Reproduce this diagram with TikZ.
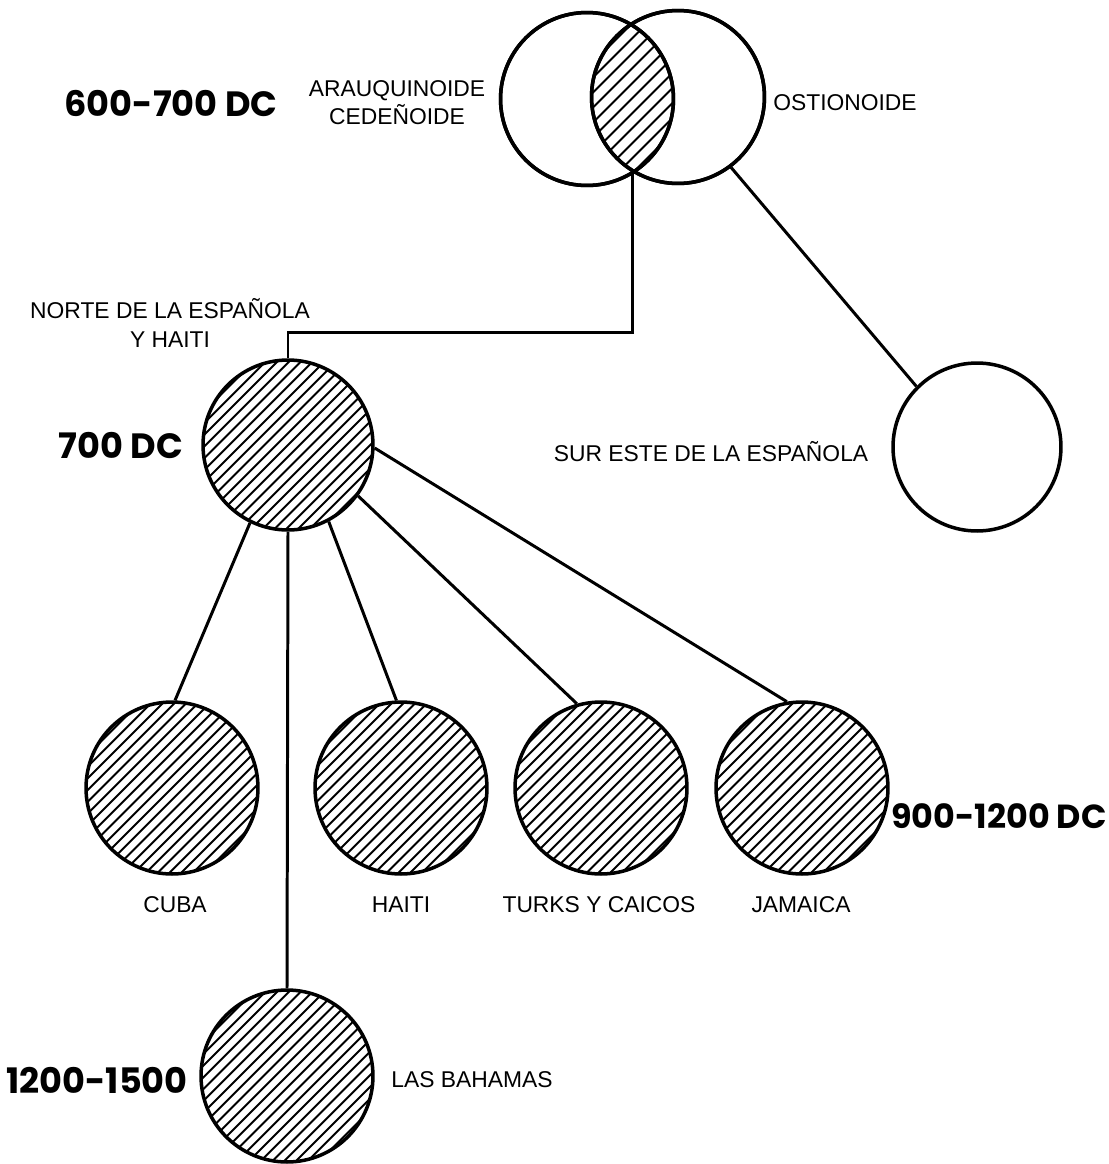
\documentclass[tikz,border=0pt]{standalone}
\usepackage{fontspec}
\setmainfont{Liberation Sans}
\newfontfamily\bigfont{Poppins}
\usetikzlibrary{calc}
\tikzset{
  circ/.style={circle, draw, line width=2pt, minimum size=3.44cm, inner sep=0pt},
  hatched/.style={path picture={
    \foreach \k in {-16,...,16}{
      \draw[line width=1.15pt] ([xshift=\k*0.235cm]path picture bounding box.center) ++(-2.3cm,-2.3cm) -- ++(4.6cm,4.6cm);
    }}},
  conn/.style={line width=1.7pt},
  lbl/.style={font=\fontsize{13}{16}\selectfont, inner sep=0pt, align=center},
  biglbl/.style={font=\bigfont\bfseries\fontsize{20}{24}\selectfont, inner sep=0pt},
}
\begin{document}
\begin{tikzpicture}[x=0.02cm,y=-0.02cm]
\useasboundingbox (0,0) rectangle (1109,1164);

% Venn
\node[circ, minimum size=3.46cm] (vL) at (587,99) {};
\node[circ, minimum size=3.46cm] (vR) at (678,97) {};
\begin{scope}
  \clip (vL.center) circle (1.73cm);
  \clip (vR.center) circle (1.73cm);
  \foreach \k in {-9,...,9}{
    \draw[line width=1.15pt] ([xshift=\k*0.30cm]632.5,98) ++(-2cm,-2cm) -- ++(4cm,4cm);
  }
\end{scope}
\node[circ, minimum size=3.46cm] at (vL.center) {};
\node[circ, minimum size=3.46cm] at (vR.center) {};
\coordinate (lensb) at (632.5,171);
\coordinate (bend) at (632.5,332);

% circles
\node[circ, hatched, minimum size=3.40cm] (norte) at (288,445) {};
\node[circ, minimum size=3.36cm] (sur) at (977,447) {};
\node[circ, hatched] (cuba) at (172,788) {};
\node[circ, hatched] (haiti) at (401,788) {};
\node[circ, hatched] (turks) at (601,788) {};
\node[circ, hatched] (jam) at (802,788) {};
\node[circ, hatched] (bah) at (287,1076) {};

% connectors
\draw[conn] (lensb) -- (bend) -| (norte.north);
\draw[conn] (vR.-53) -- (sur.135);
\draw[conn] (norte.-116) -- (cuba.88);
\draw[conn] (norte.-90) -- (bah.north);
\draw[conn] (norte.-62) -- (haiti.93);
\draw[conn] (norte.-36) -- (turks.106);
\draw[conn] (norte.-2) -- (jam.100);

% labels
\node[biglbl] (t1) at (171,103) {600-700 DC};
\node[lbl] (t2) at (397,103) {ARAUQUINOIDE\\CEDEÑOIDE};
\node[lbl] (t3) at (845,103) {OSTIONOIDE};
\node[lbl, font=\fontsize{13}{16.5}\selectfont] (t4) at (170,323) {NORTE DE LA ESPAÑOLA\\Y HAITI};
\node[biglbl] (t5) at (121,445) {700 DC};
\node[lbl] (t6) at (711,452) {SUR ESTE DE LA ESPAÑOLA};
\node[lbl] (t7) at (175,905) {CUBA};
\node[lbl] (t8) at (401,905) {HAITI};
\node[lbl] (t9) at (599,905) {TURKS Y CAICOS};
\node[lbl] (t10) at (801,905) {JAMAICA};
\node[biglbl, font=\bigfont\bfseries\fontsize{19}{23}\selectfont] (t11) at (999,816) {900-1200 DC};
\node[biglbl] (t12) at (97,1080) {1200-1500};
\node[lbl] (t13) at (472,1080) {LAS BAHAMAS};
\end{tikzpicture}
\end{document}
